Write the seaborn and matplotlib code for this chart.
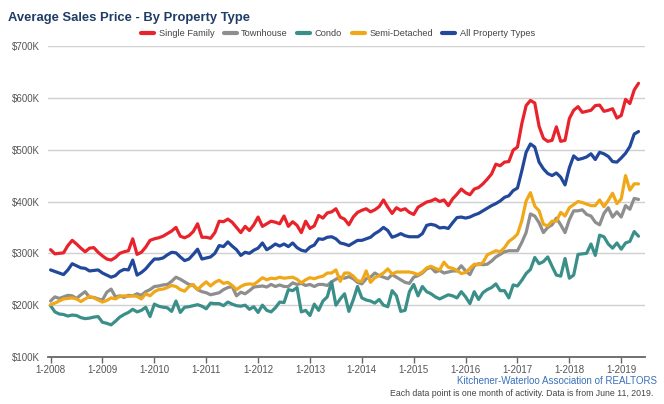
import matplotlib

matplotlib.use("Agg")
import matplotlib.pyplot as plt
import numpy as np
import pandas as pd
import seaborn as sns

# monthly average sales price ($K), Jan 2008 .. May 2019
single_family = [
    307, 299, 300, 301, 315, 325, 318, 310, 303, 310, 311, 302,
    295, 289, 287, 292, 300, 303, 305, 328, 298, 302, 312, 325, 328,
    330, 333, 338, 343, 350, 333, 330, 334, 342, 357, 331,
    331, 329, 340, 362, 361, 366, 360, 350, 340, 352, 344, 355,
    370, 352, 357, 362, 360, 357, 372, 352, 361, 354, 340, 362,
    348, 353, 373, 368, 378, 380, 386, 370, 366, 355, 370,
    379, 383, 386, 380, 384, 390, 403, 389, 377, 388, 383, 386, 379,
    375, 389, 394, 399, 401, 405, 400, 403, 392, 405,
    414, 424, 417, 413, 424, 427, 434, 443, 453, 472, 469, 476,
    477, 499, 505, 550, 585, 595, 590, 545, 522, 516, 518,
    544, 516, 518, 560, 576, 583, 572, 574, 576, 585, 586, 574,
    576, 579, 561, 566, 597, 589, 615, 628,
]
townhouse = [
    208, 216, 213, 216, 219, 218, 213, 220, 226, 215, 215, 212,
    210, 225, 231, 216, 218, 215, 219, 218, 222, 219, 226, 230, 236,
    237, 239, 240, 246, 254, 250, 245, 240, 238, 230, 226,
    224, 220, 222, 224, 230, 234, 236, 218, 225, 222, 228, 235,
    236, 237, 235, 240, 236, 239, 236, 236, 243, 240, 242, 238,
    240, 236, 240, 240, 238, 245, 250, 254, 252, 255, 251,
    244, 241, 251, 254, 262, 257, 254, 251, 259, 254, 249, 244, 242,
    254, 257, 262, 270, 273, 264, 267, 262, 264, 266,
    266, 276, 266, 259, 276, 280, 278, 279, 285, 293, 298, 303,
    305, 305, 305, 321, 340, 376, 372, 359, 340, 350, 355,
    368, 355, 340, 365, 382, 382, 384, 375, 372, 360, 355, 377,
    388, 370, 380, 370, 392, 385, 406, 404,
]
condo = [
    199, 187, 183, 182, 179, 181, 180, 176, 174, 175, 177, 178,
    167, 165, 162, 169, 177, 182, 186, 192, 187, 190, 196, 178, 202,
    198, 196, 195, 188, 208, 186, 196, 197, 199, 201, 198,
    193, 204, 203, 203, 199, 206, 202, 199, 198, 200, 192, 197,
    186, 200, 190, 187, 195, 206, 205, 230, 228, 234, 187, 190,
    180, 202, 190, 208, 216, 245, 200, 212, 222, 188, 210,
    236, 214, 210, 208, 204, 211, 200, 197, 228, 218, 188, 190, 226,
    240, 218, 236, 226, 222, 216, 212, 216, 220, 218,
    214, 226, 216, 203, 226, 211, 224, 230, 234, 241, 228, 228,
    214, 239, 237, 248, 261, 269, 292, 280, 284, 293, 275,
    258, 256, 290, 252, 258, 298, 299, 300, 318, 296, 335, 332,
    318, 310, 320, 308, 320, 323, 342, 333,
]
semi_detached = [
    201, 204, 208, 212, 213, 214, 212, 207, 212, 217, 214, 210,
    206, 209, 214, 212, 217, 218, 217, 218, 217, 212, 222, 218, 226,
    230, 231, 234, 238, 236, 230, 227, 236, 240, 230, 238,
    245, 237, 244, 248, 242, 244, 238, 230, 236, 240, 241, 240,
    246, 253, 249, 252, 251, 254, 252, 253, 254, 250, 243, 249,
    253, 251, 254, 256, 262, 262, 268, 246, 262, 262, 256,
    247, 246, 266, 244, 253, 257, 262, 270, 260, 264, 264, 264, 264,
    262, 259, 264, 272, 275, 271, 268, 283, 273, 271,
    267, 261, 263, 271, 279, 278, 282, 297, 301, 305, 303, 311,
    323, 329, 337, 363, 401, 417, 391, 382, 356, 353, 362,
    362, 379, 372, 388, 394, 400, 398, 395, 392, 392, 403, 390,
    402, 416, 396, 405, 450, 422, 434, 434,
]
all_types = [
    268, 265, 262, 259, 268, 280, 276, 272, 271, 266, 267, 268,
    262, 258, 254, 257, 265, 269, 268, 287, 258, 263, 270, 280, 289,
    289, 291, 297, 302, 301, 293, 286, 289, 298, 308, 289,
    291, 293, 300, 315, 313, 322, 314, 307, 296, 302, 300, 306,
    310, 320, 307, 312, 318, 314, 318, 313, 320, 311, 306, 304,
    312, 316, 328, 327, 331, 332, 328, 320, 318, 315, 320,
    325, 325, 328, 331, 338, 343, 350, 344, 331, 334, 338, 334, 332,
    332, 332, 338, 354, 356, 354, 349, 350, 348, 359,
    369, 370, 368, 370, 374, 377, 382, 387, 392, 396, 401, 408,
    411, 421, 426, 459, 495, 511, 505, 476, 463, 454, 450,
    455, 447, 432, 465, 488, 481, 483, 486, 492, 481, 495, 492,
    487, 477, 476, 484, 493, 506, 530, 535,
]

series_names = ["Single Family", "Townhouse", "Condo", "Semi-Detached", "All Property Types"]
colors = ["#e8232b", "#8e8e8e", "#3b8f89", "#f0a818", "#21489a"]
year_labels = [f"1-{y}" for y in range(2008, 2020)]
y_ticks = [100, 200, 300, 400, 500, 600, 700]

frames = []
for name, vals in zip(series_names, [single_family, townhouse, condo, semi_detached, all_types]):
    frames.append(pd.DataFrame({"month": np.arange(len(vals)), "price": vals, "type": name}))
df = pd.concat(frames, ignore_index=True)

sns.set_theme(style="white")
plt.rcParams["font.family"] = ["Liberation Sans", "DejaVu Sans"]

fig = plt.figure(figsize=(6.64, 4.04), dpi=100)
ax = fig.add_axes([48 / 664, 1 - 357 / 404, 597 / 664, 311 / 404])

sns.lineplot(data=df, x="month", y="price", hue="type", hue_order=series_names,
             palette=colors, linewidth=2.3, ax=ax, legend=False)

ax.set_xlim(-0.6, 137.5)
ax.set_ylim(100, 700)
ax.set_yticks(y_ticks)
ax.set_yticklabels([f"${v}K" for v in y_ticks])
ax.set_xticks(np.arange(0, 12 * len(year_labels), 12))
ax.set_xticklabels(year_labels)
ax.yaxis.grid(True, color="#d0d0d0", linewidth=1)
ax.xaxis.grid(False)
ax.set_xlabel("")
ax.set_ylabel("")
for side in ["top", "right", "left"]:
    ax.spines[side].set_visible(False)
ax.spines["bottom"].set_color("#666666")
ax.spines["bottom"].set_linewidth(1.3)
ax.tick_params(axis="y", length=0, labelsize=7, labelcolor="#555555", pad=6)
ax.tick_params(axis="x", length=4, width=1, color="#666666", direction="out",
               labelsize=7, labelcolor="#555555", pad=2, bottom=True)

handles = [plt.Line2D([], [], color=c, linewidth=3) for c in colors]
fig.legend(handles, series_names, loc="center", bbox_to_anchor=(338 / 664, 1 - 34 / 404),
           ncol=5, frameon=False, fontsize=6.7, handlelength=1.4, handletextpad=0.5,
           columnspacing=1.0, labelcolor="#444444")

fig.text(8 / 664, 1 - 18 / 404, "Average Sales Price - By Property Type", fontsize=9.4,
         fontweight="bold", color="#1f3c66", ha="left", va="center")
fig.text(657 / 664, 1 - 381 / 404, "Kitchener-Waterloo Association of REALTORS",
         fontsize=7, color="#3a70b8", ha="right", va="center")
fig.text(653 / 664, 1 - 394 / 404,
         "Each data point is one month of activity. Data is from June 11, 2019.",
         fontsize=6.3, color="#444444", ha="right", va="center")

fig.savefig("out.png", dpi=100)
